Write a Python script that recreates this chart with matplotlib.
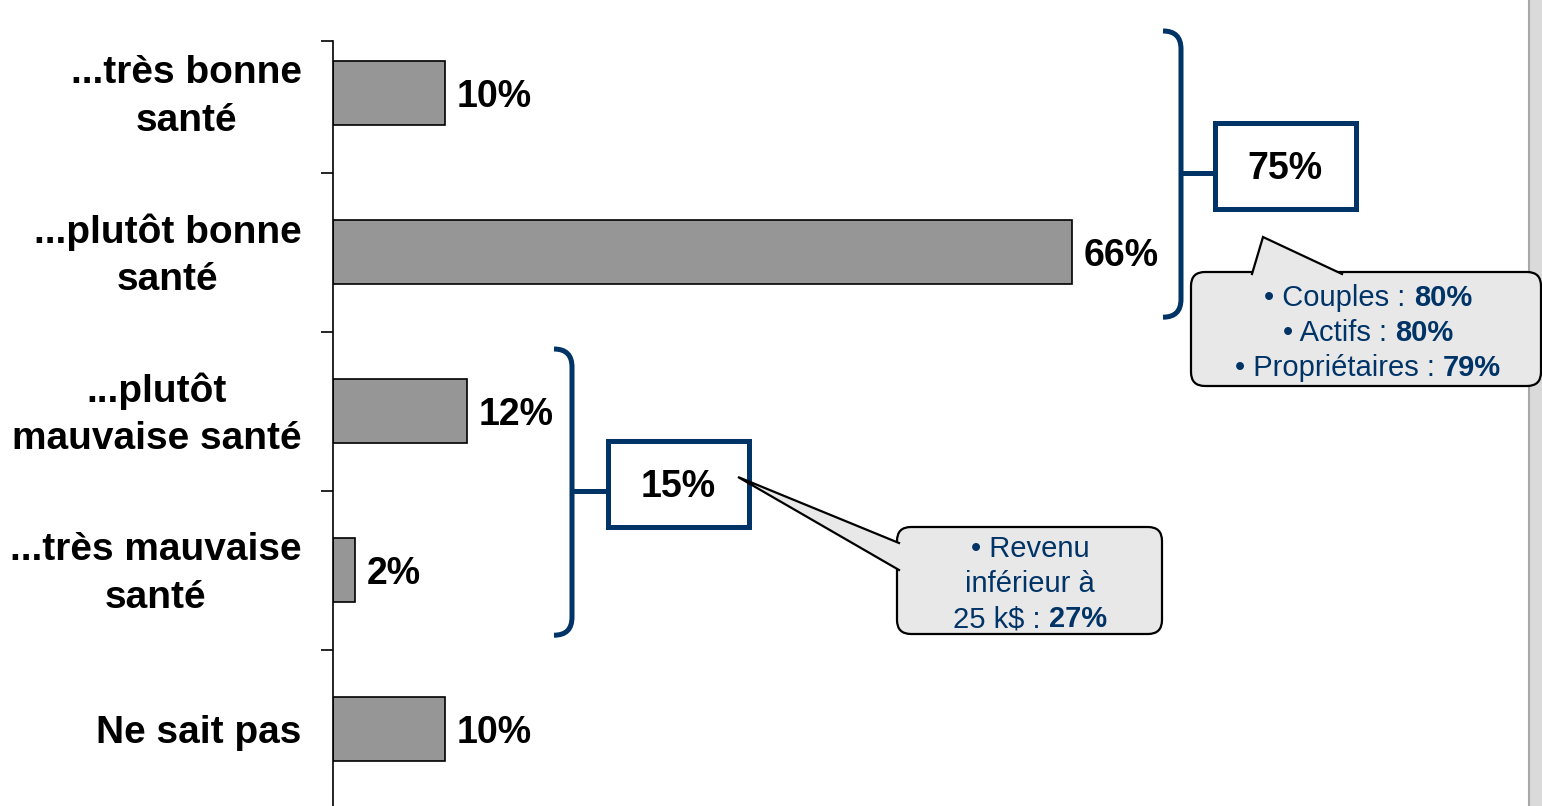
import matplotlib
matplotlib.use('Agg')
import matplotlib.pyplot as plt
from matplotlib.path import Path
from matplotlib.patches import PathPatch, FancyBboxPatch, Rectangle, Polygon
from matplotlib.offsetbox import TextArea, HPacker, VPacker, AnnotationBbox

plt.rcParams['font.family'] = ['Liberation Sans', 'DejaVu Sans']

# data
categories = ['...très bonne\nsanté', '...plutôt bonne\nsanté',
              '...plutôt\nmauvaise santé', '...très mauvaise\nsanté',
              'Ne sait pas']
shares = [10, 66, 12, 2, 10]
group_rows = [(0, 1), (2, 3)]
group_totals = [75, 15]
callout_top = [('• Couples :', '80%'), ('• Actifs :', '80%'),
               ('• Propriétaires :', '79%')]
callout_bottom = [('• Revenu', ''), ('inférieur à', ''), ('25 k$ :', '27%')]

NAVY = '#003366'
BAR = '#969696'
BUBBLE = '#e8e8e8'
W, H = 1542, 806
X0 = 333          # pixel of the value axis
PX_PER_PCT = 11.2

fig = plt.figure(figsize=(W / 100, H / 100), dpi=100)
ax = fig.add_axes([X0 / W, 0, 1 - X0 / W, (H - 41) / H])
ypos = list(range(len(categories)))
ax.barh(ypos, shares, height=0.4, color=BAR, edgecolor='black', linewidth=1.2)
ax.set_xlim(0, (W - X0) / PX_PER_PCT)
ax.set_ylim(4.484, -0.327)
for s in ['top', 'right', 'bottom']:
    ax.spines[s].set_visible(False)
ax.spines['left'].set_linewidth(1.2)
ax.set_xticks([])
ax.set_yticks([-0.325, 0.5, 1.5, 2.5, 3.5])
ax.set_yticklabels([])
ax.tick_params(axis='y', length=8.6, width=1.2)
ax.patch.set_alpha(0)

for i, (lab, v) in enumerate(zip(categories, shares)):
    ax.text(-2.8, i + 0.025, lab, ha='right', va='center', multialignment='center',
            fontsize=28, fontweight='bold', linespacing=1.4, clip_on=False)
    ax.text(v + 1.0, i + 0.025, f'{v}%', ha='left', va='center',
            fontsize=27, fontweight='bold')

# overlay in pixel coordinates for the annotations
ov = fig.add_axes([0, 0, 1, 1], zorder=3)
ov.set_xlim(0, W)
ov.set_ylim(H, 0)
ov.axis('off')


def row_px(r):
    return H - ax.transData.transform((0, r))[1]


# grey strip on the right edge
ov.add_patch(Rectangle((1528, 0), 14, H, facecolor='#dadada', edgecolor='none', zorder=0))
ov.plot([1529, 1529], [0, H], color='#a8a8a8', lw=1.5, zorder=0)

# brackets with total boxes
bracket_x = [1181, 572]
box_left = [1214.5, 607.5]
rad = 18
for (r0, r1), total, xv, bx in zip(group_rows, group_totals, bracket_x, box_left):
    ytop = row_px(r0 - 0.39)
    ybot = row_px(r1 + 0.41)
    ymid = (ytop + ybot) / 2 - 1
    verts = [(xv - rad, ytop), (xv, ytop), (xv, ytop + rad),
             (xv, ybot - rad), (xv, ybot), (xv - rad, ybot)]
    codes = [Path.MOVETO, Path.CURVE3, Path.CURVE3,
             Path.LINETO, Path.CURVE3, Path.CURVE3]
    ov.add_patch(PathPatch(Path(verts, codes), fill=False, edgecolor=NAVY,
                           lw=3.6, capstyle='butt', zorder=2))
    ov.plot([xv, bx], [ymid, ymid], color=NAVY, lw=3.6, solid_capstyle='butt', zorder=2)
    bc = ymid - 7
    ov.add_patch(Rectangle((bx, bc - 43), 141, 86, facecolor='white',
                           edgecolor=NAVY, lw=3.6, zorder=2))
    ov.text(bx + 70.5, bc + 3, f'{total}%', ha='center', va='center',
            fontsize=27, fontweight='bold', zorder=3)


def callout(box, tip, base, lines, center):
    x, y, w, h = box
    ov.add_patch(FancyBboxPatch((x, y), w, h, boxstyle='round,pad=0,rounding_size=14',
                                facecolor=BUBBLE, edgecolor='black', lw=1.6, zorder=4))
    (b1, b2) = base
    ov.add_patch(Polygon([b1, tip, b2], closed=True, facecolor=BUBBLE,
                         edgecolor='none', zorder=5))
    ov.plot([b1[0], tip[0], b2[0]], [b1[1], tip[1], b2[1]], color='black',
            lw=1.6, zorder=6, solid_joinstyle='miter')
    rows = []
    for normal, bold in lines:
        parts = [TextArea(normal, textprops=dict(color=NAVY, fontsize=21))]
        if bold:
            parts.append(TextArea(bold, textprops=dict(color=NAVY, fontsize=21,
                                                       fontweight='bold')))
        rows.append(HPacker(children=parts, align='baseline', pad=0, sep=6))
    vp = VPacker(children=rows, align='center', pad=0, sep=5.3)
    ab = AnnotationBbox(vp, center, xycoords='data', frameon=False,
                        box_alignment=(0.5, 0.5), pad=0, zorder=7)
    ov.add_artist(ab)


callout((1191, 272, 350, 114), (1263, 237), ((1252, 274), (1342, 274)),
        callout_top, (1368, 333))
callout((897, 527, 265, 107), (738, 477), ((899, 543), (899, 570)),
        callout_bottom, (1030, 584))

fig.savefig('out.png', dpi=100)
